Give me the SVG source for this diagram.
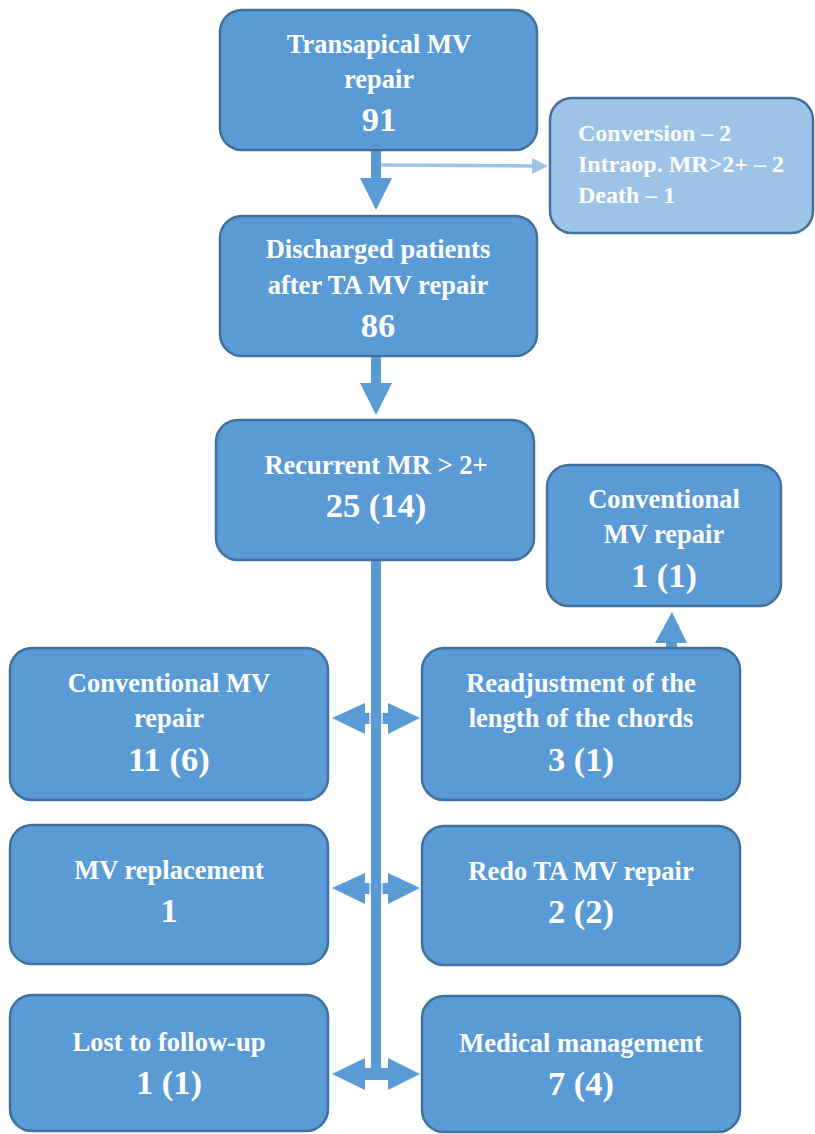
<svg xmlns="http://www.w3.org/2000/svg" width="815" height="1134" viewBox="0 0 815 1134">
<style>
.box{fill:#5B9BD5;stroke:#41719C;stroke-width:2.5}
.lite{fill:#9DC3E6;stroke:#41719C;stroke-width:2.5}
.t{font-size:26.5px;text-anchor:middle}
.n{font-size:34.5px;text-anchor:middle}
.s{font-size:24px}
.a{fill:#5B9BD5}
</style>
<rect width="815" height="1134" fill="#fff"/>
<g id="connectors">
<line x1="381" y1="165" x2="535" y2="166" stroke="#9DC3E6" stroke-width="3.5"/>
<polygon points="532,158 548,166 532,174" fill="#9DC3E6"/>
<polygon class="a" points="371,150 381,150 381,178 392,178 376,210 360,178 371,178"/>
<polygon class="a" points="371,356 381,356 381,383 392,383 376,415 360,383 371,383"/>
<polygon class="a" points="666,648 677,648 677,643 687,643 672,612 655,643 666,643"/>
<polygon class="a" points="332,718 365,703 365,713 388,713 388,703 420,718 388,734 388,724 365,724 365,734"/>
<polygon class="a" points="332,888 365,873 365,883 388,883 388,873 420,888 388,904 388,894 365,894 365,904"/>
<polygon class="a" points="332,1074 365,1058 365,1068 388,1068 388,1058 420,1074 388,1090 388,1080 365,1080 365,1090"/>
<rect class="a" x="371" y="560" width="10" height="519"/>
<g stroke="#fff" stroke-width="1.3">
<line x1="370" y1="713" x2="370" y2="724"/><line x1="382" y1="713" x2="382" y2="724"/>
<line x1="370" y1="883" x2="370" y2="894"/><line x1="382" y1="883" x2="382" y2="894"/>
</g>
</g>
<g font-family="Liberation Serif, Times New Roman, serif" font-weight="bold" fill="#ffffff">
<g id="n1"><rect class="box" x="220" y="10" width="317" height="140" rx="22"/>
<text class="t" x="379" y="53">Transapical MV</text><text class="t" x="379" y="88">repair</text><text class="n" x="379" y="131">91</text></g>
<g id="n2"><rect class="lite" x="550" y="98" width="263" height="135" rx="22"/>
<text class="s" x="578" y="141">Conversion – 2</text><text class="s" x="578" y="172">Intraop. MR&gt;2+ – 2</text><text class="s" x="578" y="203">Death – 1</text></g>
<g id="n3"><rect class="box" x="220" y="216" width="317" height="140" rx="22"/>
<text class="t" x="378" y="258">Discharged patients</text><text class="t" x="378" y="294">after TA MV repair</text><text class="n" x="378" y="337">86</text></g>
<g id="n4"><rect class="box" x="216" y="420" width="318" height="140" rx="22"/>
<text class="t" x="376" y="474">Recurrent MR &gt; 2+</text><text class="n" x="376" y="517">25 (14)</text></g>
<g id="n5"><rect class="box" x="547" y="465" width="234" height="141" rx="22"/>
<text class="t" x="664" y="508">Conventional</text><text class="t" x="664" y="543">MV repair</text><text class="n" x="664" y="587">1 (1)</text></g>
<g id="n6"><rect class="box" x="10" y="648" width="318" height="152" rx="22"/>
<text class="t" x="169" y="692">Conventional MV</text><text class="t" x="169" y="727">repair</text><text class="n" x="169" y="771">11 (6)</text></g>
<g id="n7"><rect class="box" x="422" y="648" width="318" height="152" rx="22"/>
<text class="t" x="581" y="692">Readjustment of the</text><text class="t" x="581" y="727">length of the chords</text><text class="n" x="581" y="771">3 (1)</text></g>
<g id="n8"><rect class="box" x="10" y="825" width="318" height="139" rx="22"/>
<text class="t" x="169" y="879">MV replacement</text><text class="n" x="169" y="922">1</text></g>
<g id="n9"><rect class="box" x="422" y="826" width="318" height="139" rx="22"/>
<text class="t" x="581" y="880">Redo TA MV repair</text><text class="n" x="581" y="923">2 (2)</text></g>
<g id="n10"><rect class="box" x="10" y="995" width="318" height="136" rx="22"/>
<text class="t" x="169" y="1051">Lost to follow-up</text><text class="n" x="169" y="1094">1 (1)</text></g>
<g id="n11"><rect class="box" x="422" y="996" width="318" height="136" rx="22"/>
<text class="t" x="581" y="1052">Medical management</text><text class="n" x="581" y="1095">7 (4)</text></g>
</g>
</svg>
